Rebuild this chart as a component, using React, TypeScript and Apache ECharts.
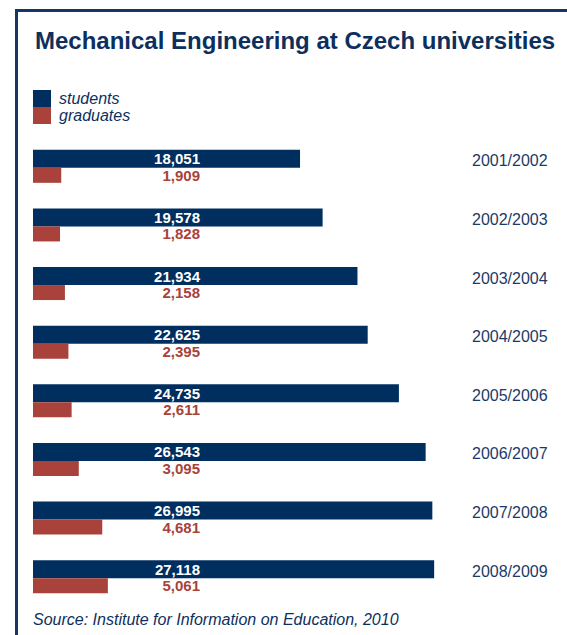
import React, { useEffect, useRef } from "react";
import * as echarts from "echarts";

const years = ["2001/2002", "2002/2003", "2003/2004", "2004/2005", "2005/2006", "2006/2007", "2007/2008", "2008/2009"];
const students = [18051, 19578, 21934, 22625, 24735, 26543, 26995, 27118];
const graduates = [1909, 1828, 2158, 2395, 2611, 3095, 4681, 5061];

const NAVY = "#002f5f";
const RED = "#a8423a";
const TEXT = "#0d2f5e";
const FONT = "'Liberation Sans', Arial, Helvetica, sans-serif";

const fmt = (v: number) => v.toLocaleString("en-US");

export default function App() {
  const ref = useRef<HTMLDivElement>(null);
  useEffect(() => {
    if (!ref.current) return;
    const chart = echarts.init(ref.current, undefined, { renderer: "svg" });
    chart.setOption({
      animation: false,
      backgroundColor: "#ffffff",
      textStyle: { fontFamily: FONT },
      title: [
        {
          text: "Mechanical Engineering at Czech universities",
          left: 35,
          top: 28,
          padding: 0,
          textStyle: { fontFamily: FONT, fontSize: 24, fontWeight: "bold", color: TEXT },
        },
        {
          text: "Source: Institute for Information on Education, 2010",
          left: 33,
          top: 611,
          padding: 0,
          textStyle: { fontFamily: FONT, fontSize: 16, fontWeight: "normal", fontStyle: "italic", color: TEXT },
        },
      ],
      legend: {
        orient: "vertical",
        left: 33,
        top: 90,
        padding: 0,
        itemGap: 0,
        itemWidth: 18,
        itemHeight: 17,
        icon: "rect",
        selectedMode: false,
        textStyle: {
          fontFamily: FONT,
          fontSize: 16,
          fontStyle: "italic",
          color: TEXT,
          lineHeight: 17,
          padding: [0, 0, 0, 3],
        },
        data: ["students", "graduates"],
      },
      grid: { left: 33, top: 137, width: 429, height: 469 },
      xAxis: {
        type: "value",
        min: 0,
        max: 29000,
        show: false,
        splitLine: { show: false },
      },
      yAxis: {
        type: "category",
        data: years,
        inverse: true,
        position: "right",
        axisLine: { show: false },
        axisTick: { show: false },
        splitLine: { show: false },
        axisLabel: {
          margin: 10,
          fontFamily: FONT,
          fontSize: 16,
          lineHeight: 11,
          color: "#1b3a68",
          verticalAlign: "bottom",
        },
      },
      graphic: [
        { type: "rect", shape: { x: 15, y: 9, width: 552, height: 3 }, style: { fill: "#173763" } },
        { type: "rect", shape: { x: 15, y: 9, width: 3, height: 626 }, style: { fill: "#173763" } },
      ],
      series: [
        {
          name: "students",
          type: "bar",
          data: students,
          barWidth: 18,
          barGap: "0%",
          itemStyle: { color: NAVY },
          label: {
            show: true,
            position: [167, "50%"],
            align: "right",
            verticalAlign: "middle",
            fontFamily: FONT,
            fontSize: 15,
            fontWeight: "bold",
            color: "#ffffff",
            formatter: (p: any) => fmt(p.value),
          },
        },
        {
          name: "graduates",
          type: "bar",
          data: graduates,
          barWidth: 15,
          barGap: "0%",
          itemStyle: { color: RED },
          label: {
            show: true,
            position: [167, "50%"],
            align: "right",
            verticalAlign: "middle",
            fontFamily: FONT,
            fontSize: 15,
            fontWeight: "bold",
            color: RED,
            formatter: (p: any) => fmt(p.value),
          },
        },
      ],
    });
    return () => chart.dispose();
  }, []);
  return (
    <div
      ref={ref}
      style={{ position: "fixed", left: 0, top: 0, width: 567, height: 635 }}
    />
  );
}
